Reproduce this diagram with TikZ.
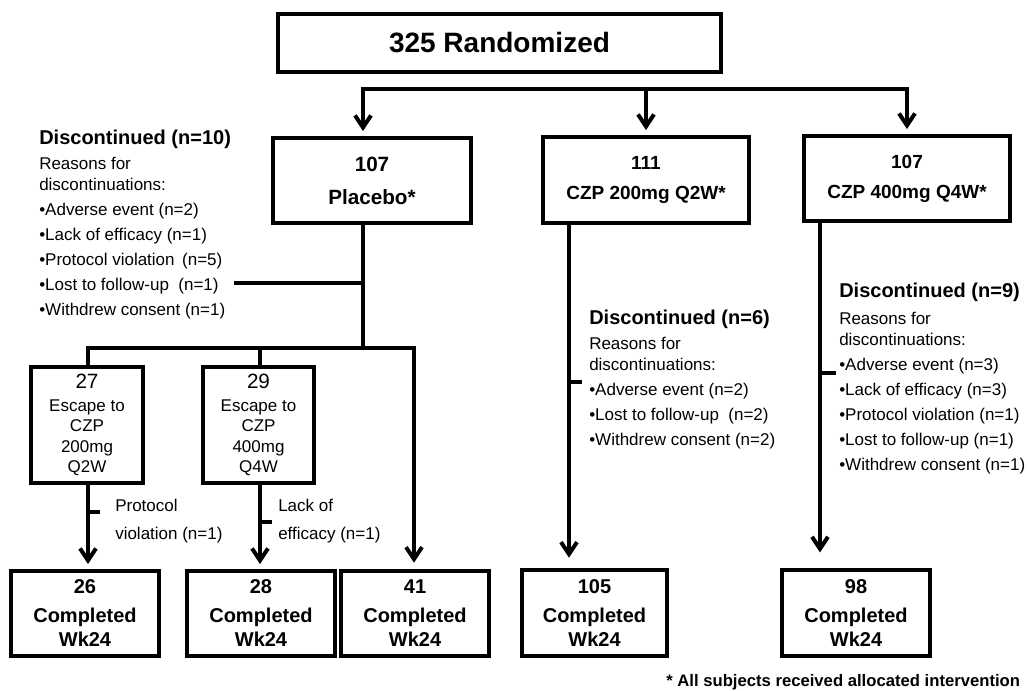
\documentclass[tikz,border=0pt]{standalone}
\usepackage{fontspec}
\setmainfont{Liberation Sans}
\usetikzlibrary{arrows.meta}
\begin{document}
\begin{tikzpicture}[x=0.75pt,y=-0.75pt,
  box/.style={draw=black, line width=2.4pt, align=center, inner sep=0pt, anchor=center},
  conn/.style={draw=black, line width=3pt, line cap=rect, line join=miter},
  arr/.style={conn, -{Straight Barb[length=9pt,width=12pt,line cap=butt]}},
  head/.style={font=\fontsize{15}{18}\selectfont\bfseries, inner sep=0pt, anchor=base west},
  body/.style={font=\fontsize{12.75}{15.75}\selectfont, align=left, inner sep=0pt, anchor=north west},
  small/.style={font=\fontsize{12.75}{21}\selectfont, align=left, inner sep=0pt, anchor=north west},
  bigbox/.style={box, font=\fontsize{14.25}{24.75}\selectfont\bfseries},
  escbox/.style={box, font=\fontsize{12.75}{15.3}\selectfont},
  donebox/.style={box, font=\fontsize{15}{18}\selectfont\bfseries}
]
\useasboundingbox (0,0) rectangle (1029,691);

% boxes
\node[box, font=\fontsize{21}{25}\selectfont\bfseries, minimum width=332.25pt, minimum height=43.5pt] (top) at (499.5,43) {325 Randomized};
\node[bigbox, minimum width=148.5pt, minimum height=63.75pt, font=\fontsize{15.5}{24.75}\selectfont\bfseries] (placebo) at (372,180.5) {107\\Placebo*};
\node[bigbox, minimum width=154.5pt, minimum height=64.5pt, font=\fontsize{14.25}{22.5}\selectfont\bfseries] (czpA) at (646,180) {111\\CZP 200mg Q2W*};
\node[bigbox, minimum width=154.5pt, minimum height=63.75pt, font=\fontsize{14.25}{22.5}\selectfont\bfseries] (czpB) at (907,178.5) {107\\CZP 400mg Q4W*};

\node[escbox, minimum width=84pt, minimum height=87pt] (esc27) at (87,425) {{\fontsize{15.5}{15.3}\selectfont 27}\\[2pt]Escape to\\CZP\\200mg\\Q2W};
\node[escbox, minimum width=83.25pt, minimum height=87pt] (esc29) at (258.5,425) {{\fontsize{15.5}{15.3}\selectfont 29}\\[2pt]Escape to\\CZP\\400mg\\Q4W};

\node[donebox, minimum width=111pt, minimum height=63.75pt] (b26) at (85,613.5) {26\\[3.75pt]Completed\\Wk24};
\node[donebox, minimum width=111pt, minimum height=63.75pt] (b28) at (261,613.5) {28\\[3.75pt]Completed\\Wk24};
\node[donebox, minimum width=111pt, minimum height=63.75pt] (b41) at (415,613.5) {41\\[3.75pt]Completed\\Wk24};
\node[donebox, minimum width=108.75pt, minimum height=64.5pt] (b105) at (594.5,613) {105\\[3.75pt]Completed\\Wk24};
\node[donebox, minimum width=111pt, minimum height=64.5pt] (b98) at (856,613) {98\\[3.75pt]Completed\\Wk24};

% discontinuation texts
\node[head] (dA) at (39,144.5) {Discontinued (n=10)};
\node[body] (dAb) at (39,156.6) {Reasons for\\discontinuations:\\[3pt]•Adverse event (n=2)\\[3pt]•Lack of efficacy (n=1)\\[3pt]•Protocol violation\, (n=5)\\[3pt]•Lost to follow-up\ \ (n=1)\\[3pt]•Withdrew consent (n=1)};

\node[head] (dB) at (589,324.5) {Discontinued (n=6)};
\node[body] (dBb) at (589,336.6) {Reasons for\\discontinuations:\\[3pt]•Adverse event (n=2)\\[3pt]•Lost to follow-up\ \ (n=2)\\[3pt]•Withdrew consent (n=2)};

\node[head] (dC) at (839,297.5) {Discontinued (n=9)};
\node[body] (dCb) at (839,311.6) {Reasons for\\discontinuations:\\[3pt]•Adverse event (n=3)\\[3pt]•Lack of efficacy (n=3)\\[3pt]•Protocol violation (n=1)\\[3pt]•Lost to follow-up\ (n=1)\\[3pt]•Withdrew consent (n=1)};

\node[small] (pv) at (115,498.6) {Protocol\\violation (n=1)};
\node[small] (le) at (278,498.6) {Lack of\\efficacy (n=1)};

\node[font=\fontsize{12.5}{15}\selectfont\bfseries, inner sep=0pt, anchor=base west] (foot) at (666,686) {* All subjects received allocated intervention};

% coordinates
\coordinate (hl) at (363,89);
\coordinate (hr) at (907,89);
\coordinate (pj) at (363,348);
\coordinate (dl) at (236,283);
\coordinate (h2l) at (88,348);
\coordinate (h2r) at (414,348);
\coordinate (x29) at (260,348);
\coordinate (xA) at (569,0);
\coordinate (xB) at (820,0);
\coordinate (t27) at (88,512);
\coordinate (t29) at (260,522);
\coordinate (tA) at (569,382);
\coordinate (tB) at (820,373);

% connectors
\draw[conn] (hl) -- (hr);
\draw[arr, shorten >=4pt] (hl) -- (placebo.north -| hl);
\draw[arr, shorten >=4pt] (hl -| czpA) -- (czpA.north);
\draw[arr, shorten >=4pt] (hr) -- (czpB.north -| hr);

\draw[conn] (placebo.south -| pj) -- (pj);
\draw[conn] (dl) -- (dl -| pj);
\draw[conn] (esc27.north -| h2l) -- (h2l) -- (h2r);
\draw[conn] (x29) -- (esc29.north -| x29);
\draw[arr, shorten >=5pt] (h2r) -- (b41.north -| h2r);

\draw[arr, shorten >=4pt] (esc27.south -| h2l) -- (b26.north -| h2l);
\draw[arr, shorten >=4pt] (esc29.south -| x29) -- (b28.north -| x29);
\draw[conn] (t27) -- ++(10,0);
\draw[conn] (t29) -- ++(10,0);

\draw[arr, shorten >=8pt] (czpA.south -| xA) -- (b105.north -| xA);
\draw[arr, shorten >=12pt] (czpB.south -| xB) -- (b98.north -| xB);
\draw[conn] (tA) -- ++(11,0);
\draw[conn] (tB) -- ++(14,0);
\end{tikzpicture}
\end{document}
